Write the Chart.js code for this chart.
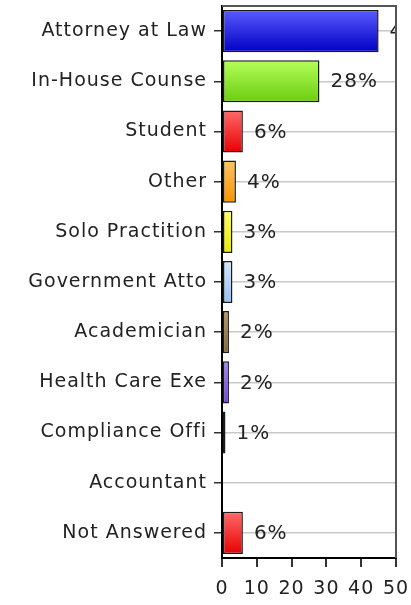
<!DOCTYPE html>
<html>
<head>
<meta charset="utf-8">
<script src="https://cdn.jsdelivr.net/npm/chart.js@4"></script>
<style>
  body { margin: 0; background: #fff; }
  #wrap { width: 411px; height: 605px; }
</style>
</head>
<body>
<div id="wrap"><canvas id="barChart" width="411" height="605"></canvas></div>
<script>
// -------------------- DATA --------------------
const categories = ['Attorney at Law', 'In-House Counse', 'Student', 'Other', 'Solo Practition',
    'Government Atto', 'Academician', 'Health Care Exe', 'Compliance Offi', 'Accountant', 'Not Answered'];
const percents = [45, 28, 6, 4, 3, 3, 2, 2, 1, 0, 6];
const xTicks = [0, 10, 20, 30, 40, 50];

// top / bottom colour of each bar's gradient
const topColors = ['#5a5aff', '#b4ff5a', '#ff6a6a', '#ffc464', '#ffff66', '#d0e6ff', '#bc9c5c', '#a888ff', '#333333', '#cccccc', '#ff6a6a'];
const bottomColors = ['#0000c4', '#6ccc10', '#e80000', '#f59400', '#e8e800', '#94c0ee', '#86662a', '#7040e8', '#000000', '#999999', '#e80000'];

const FONT = 'DejaVu Sans';

// -------------------- PLUGINS --------------------
// the original text is a bit wider than DejaVu, so spread the letters a little
const spacing = {
    id: 'spacing',
    beforeDraw(chart) { chart.ctx.letterSpacing = '1px'; }
};

// vertical gradient on each bar, set once the bars have their positions
const barGradient = {
    id: 'barGradient',
    beforeDatasetsDraw(chart) {
        const { ctx } = chart;
        chart.getDatasetMeta(0).data.forEach((bar, i) => {
            const h = bar.height / 2;
            if (!isFinite(bar.y) || !isFinite(h)) return;
            const g = ctx.createLinearGradient(0, bar.y - h, 0, bar.y + h);
            g.addColorStop(0, topColors[i]);
            g.addColorStop(1, bottomColors[i]);
            bar.options.backgroundColor = g;
        });
    }
};

// frame round the plot (top + right in grey)
const framePlugin = {
    id: 'frame',
    afterDraw(chart) {
        const { ctx, chartArea: a } = chart;
        ctx.save();
        ctx.strokeStyle = '#555';
        ctx.lineWidth = 2;
        ctx.beginPath();
        ctx.moveTo(a.left, a.top);
        ctx.lineTo(a.right, a.top);
        ctx.lineTo(a.right, a.bottom);
        ctx.stroke();
        ctx.restore();
    }
};

// "28%" labels right of each bar
const valueLabels = {
    id: 'valueLabels',
    afterDatasetsDraw(chart) {
        const { ctx, chartArea: a } = chart;
        const meta = chart.getDatasetMeta(0);
        ctx.save();
        ctx.beginPath();
        ctx.rect(a.left, a.top - 10, a.right - a.left, a.bottom - a.top + 20);
        ctx.clip();
        ctx.font = '20px "' + FONT + '"';
        ctx.fillStyle = '#222';
        ctx.textBaseline = 'middle';
        meta.data.forEach((bar, i) => {
            if (!percents[i]) return;
            ctx.fillText(percents[i] + '%', bar.x + 11, bar.y + 1);
        });
        ctx.restore();
    }
};

// -------------------- CHART --------------------
const canvas = document.getElementById('barChart');

new Chart(canvas, {
    type: 'bar',
    data: {
        labels: categories,
        datasets: [{
            data: percents,
            backgroundColor: bottomColors,
            borderColor: '#1a1a1a',
            borderWidth: 1.5,
            borderSkipped: false,
            barPercentage: 0.84,
            categoryPercentage: 1
        }]
    },
    options: {
        indexAxis: 'y',
        responsive: false,
        animation: false,
        layout: { padding: { top: 6, right: 15, left: 0, bottom: 0 } },
        plugins: { legend: { display: false }, tooltip: { enabled: false } },
        scales: {
            y: {
                afterFit: (s) => { s.width = 222; s.paddingTop = 0; s.paddingBottom = 0; },
                grid: { offset: false, color: '#c8c8c8', tickColor: '#333', tickLength: 8, lineWidth: 1.5 },
                border: { color: '#000', width: 2 },
                ticks: { color: '#222', padding: 7, font: { family: FONT, size: 19 } }
            },
            x: {
                min: 0,
                max: 50,
                afterFit: (s) => { s.height = 47; s.paddingLeft = 0; s.paddingRight = 0; },
                afterBuildTicks: (s) => { s.ticks = xTicks.map(v => ({ value: v })); },
                grid: { drawOnChartArea: false, tickColor: '#333', tickLength: 9, lineWidth: 2 },
                border: { color: '#000', width: 2 },
                ticks: { color: '#222', padding: 11, maxRotation: 0, font: { family: FONT, size: 19 } }
            }
        }
    },
    plugins: [spacing, barGradient, valueLabels, framePlugin]
});
</script>
</body>
</html>
